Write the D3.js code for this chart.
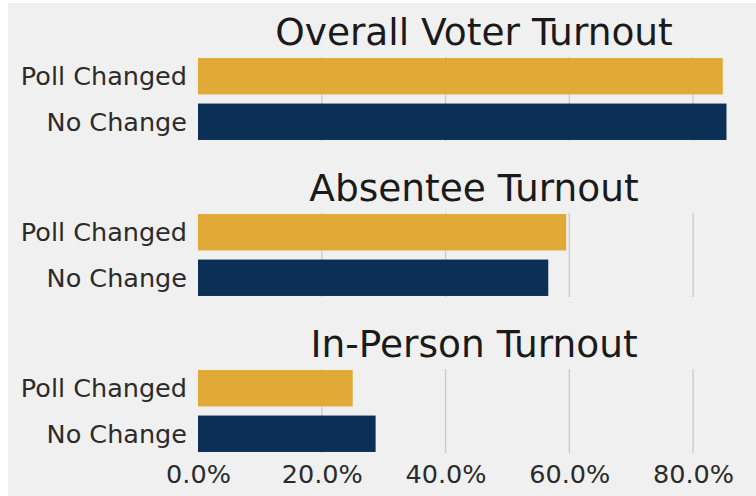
<!DOCTYPE html>
<html>
<head>
<meta charset="utf-8">
<script src="https://cdn.jsdelivr.net/npm/d3@7"></script>
<style>
  body { margin: 0; background: #ffffff; }
  text { font-family: "DejaVu Sans", sans-serif; }
</style>
</head>
<body>
<script>
// data
var panels = ["Overall Voter Turnout", "Absentee Turnout", "In-Person Turnout"];
var groups = ["Poll Changed", "No Change"];
var pollChanged = [0.848, 0.595, 0.250];
var noChange = [0.854, 0.566, 0.287];
var tickValues = [0, 0.2, 0.4, 0.6, 0.8];

var W = 756, H = 496;
var colors = { "Poll Changed": "#e1a936", "No Change": "#0c2f55" };

var svg = d3.select("body").append("svg")
    .attr("width", W)
    .attr("height", H);

// figure background
svg.append("rect")
    .attr("x", 8).attr("y", 3)
    .attr("width", W - 8).attr("height", H - 3)
    .attr("fill", "#f0f0f0");

var x = d3.scaleLinear().domain([0, 0.892]).range([198, 750]);

var axTops = [57, 213, 369],
    axH = 84;

panels.forEach(function (title, i) {
    var vals = [pollChanged[i], noChange[i]];
    var y = d3.scaleBand()
        .domain(groups)
        .range([axTops[i], axTops[i] + axH])
        .paddingInner(0.2)
        .paddingOuter(0.023);

    var g = svg.append("g");

    // grid lines
    g.selectAll("line.grid")
        .data(tickValues.slice(1))
        .enter().append("line")
        .attr("class", "grid")
        .attr("x1", function (d) { return x(d); })
        .attr("x2", function (d) { return x(d); })
        .attr("y1", axTops[i])
        .attr("y2", axTops[i] + axH)
        .attr("stroke", "#cbcbcb")
        .attr("stroke-width", 1.3);

    // bars
    g.selectAll("rect.bar")
        .data(groups)
        .enter().append("rect")
        .attr("class", "bar")
        .attr("x", x(0))
        .attr("y", function (d) { return y(d); })
        .attr("width", function (d, j) { return x(vals[j]) - x(0); })
        .attr("height", y.bandwidth())
        .attr("fill", function (d) { return colors[d]; });

    // category labels
    g.selectAll("text.cat")
        .data(groups)
        .enter().append("text")
        .attr("class", "cat")
        .attr("x", 187)
        .attr("y", function (d) { return y(d) + y.bandwidth() / 2; })
        .attr("dy", "0.36em")
        .attr("text-anchor", "end")
        .attr("font-size", 25.5)
        .attr("fill", "#2b2b2b")
        .text(function (d) { return d; });

    // title
    g.append("text")
        .attr("x", (x.range()[0] + x.range()[1]) / 2)
        .attr("y", axTops[i] - 12)
        .attr("text-anchor", "middle")
        .attr("font-size", 37.5)
        .attr("fill", "#1a1a1a")
        .text(title);
});

// bottom axis tick labels
var xAxis = d3.axisBottom(x)
    .tickValues(tickValues)
    .tickFormat(d3.format(".1%"))
    .tickSize(0)
    .tickPadding(0);

var ax = svg.append("g")
    .attr("transform", "translate(0," + 465 + ")")
    .call(xAxis);
ax.select(".domain").remove();
ax.selectAll("text")
    .attr("font-size", 25.5)
    .attr("fill", "#2b2b2b")
    .attr("font-family", "DejaVu Sans, sans-serif");
</script>
</body>
</html>
